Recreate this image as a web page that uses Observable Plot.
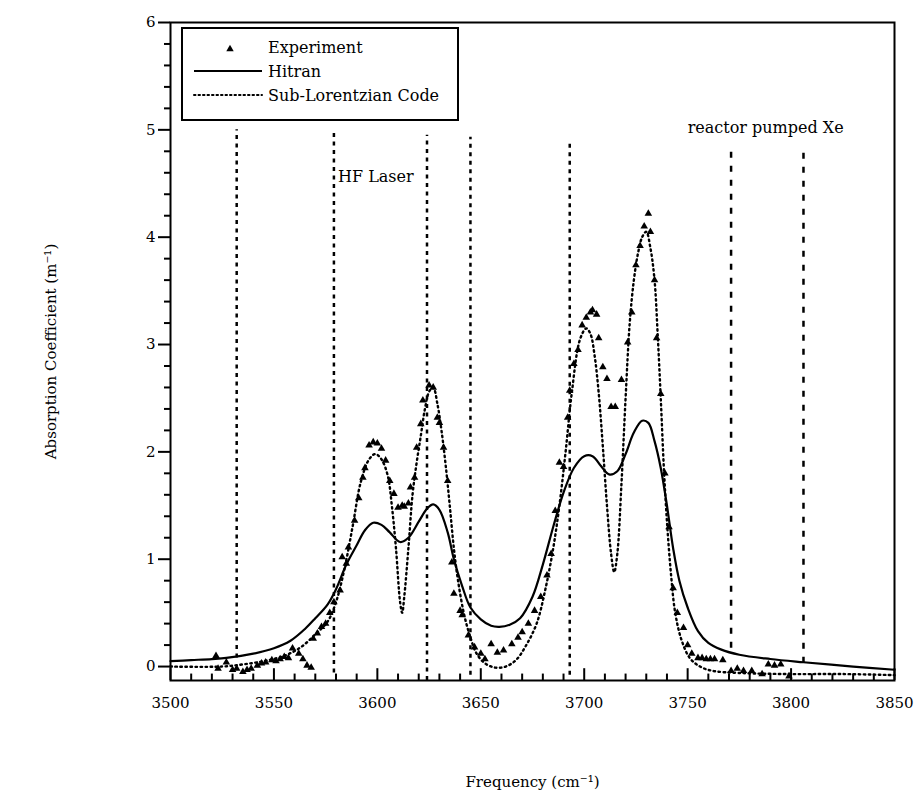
<!DOCTYPE html>
<html><head><meta charset="utf-8">
<script src="https://cdn.jsdelivr.net/npm/d3@7"></script>
<script src="https://cdn.jsdelivr.net/npm/@observablehq/plot@0.6"></script>
<style>
body{margin:0;background:#fff;}
#wrap{position:relative;width:918px;height:796px;}
#legend{position:absolute;left:0;top:0;pointer-events:none;}
</style></head><body><div id="wrap"></div>
<script>
// ---- data ----
const hitranX = [3500,3510,3520,3527,3540,3550,3558,3565,3570,3576,3580,3585,3590,3594,3598,3602,3606,3611,3615,3620,3624,3627,3630,3634,3637,3641,3645,3650,3655,3659,3664,3669,3675,3680,3685,3690,3695,3700,3704,3708,3712,3716,3720,3724,3728,3731,3734,3737,3740,3743,3746,3750,3755,3760,3766,3775,3790,3806,3830,3850];
const hitranY = [0.05,0.06,0.07,0.08,0.12,0.17,0.24,0.35,0.45,0.58,0.72,0.95,1.13,1.27,1.34,1.32,1.25,1.16,1.2,1.35,1.47,1.51,1.46,1.25,1.0,0.75,0.55,0.44,0.38,0.37,0.39,0.45,0.65,0.95,1.3,1.62,1.85,1.96,1.96,1.87,1.79,1.82,1.98,2.18,2.29,2.27,2.1,1.85,1.5,1.1,0.8,0.55,0.33,0.22,0.16,0.11,0.07,0.04,0.0,-0.03];

const subX = [3500,3525,3535,3545,3555,3563,3570,3576,3580,3584,3588,3592,3596,3599,3602,3605,3607,3609,3611,3612,3613,3615,3617,3619,3621,3623,3625,3627,3629,3631,3633,3635,3637,3639,3642,3645,3648,3652,3657,3662,3667,3672,3677,3681,3685,3688,3691,3694,3698,3701,3703,3705,3707,3709,3711,3713,3714.5,3716,3718,3720,3722,3724,3726,3728,3730,3732,3734,3735.5,3737,3738.5,3740,3742,3744,3747,3751,3756,3762,3775,3800,3825,3850];
const subY = [0.0,0.0,0.02,0.05,0.1,0.18,0.3,0.42,0.6,0.9,1.3,1.72,1.93,1.98,1.93,1.78,1.5,1.1,0.6,0.5,0.65,1.1,1.6,1.9,2.15,2.4,2.56,2.6,2.45,2.2,1.88,1.5,1.1,0.8,0.48,0.27,0.12,0.03,-0.01,0.0,0.06,0.2,0.4,0.7,1.1,1.5,2.0,2.55,3.05,3.15,3.1,2.9,2.55,2.05,1.5,1.05,0.88,1.05,1.7,2.5,3.2,3.6,3.85,4.0,4.05,3.9,3.6,3.1,2.5,1.85,1.35,0.85,0.5,0.25,0.08,0.0,-0.04,-0.06,-0.07,-0.07,-0.08];

const expX = [3522,3523,3527,3530,3532,3535,3537,3539,3542,3544,3546,3549,3551,3553,3555,3557,3559,3562,3564,3566,3568,3569,3571,3573,3575,3577,3579,3582,3583,3585,3586,3589,3591,3593,3594,3596,3598,3600,3602,3604,3606,3608,3610,3612,3613,3615,3616,3618,3619,3621,3622,3625,3627,3629,3630,3632,3634,3636,3637,3640,3641,3644,3647,3650,3652,3655,3658,3661,3665,3668,3670,3673,3676,3679,3682,3684,3686,3688,3690,3692,3693,3695,3697,3699,3701,3703,3704,3706,3707,3709,3711,3713,3715,3718,3721,3723,3725,3727,3729,3731,3732,3734,3735,3737,3739,3741,3743,3745,3748,3750,3752,3755,3757,3759,3761,3763,3767,3771,3774,3777,3781,3786,3789,3792,3795,3799];
const expY = [0.10,-0.02,0.04,-0.03,-0.02,-0.05,-0.03,-0.02,0.01,0.03,0.04,0.06,0.05,0.07,0.09,0.08,0.17,0.12,0.07,0.01,-0.01,0.26,0.31,0.37,0.40,0.50,0.60,0.71,1.02,0.96,1.11,1.36,1.57,1.76,1.85,2.06,2.09,2.08,2.03,1.92,1.73,1.61,1.48,1.50,1.49,1.52,1.67,1.76,2.04,2.26,2.48,2.62,2.60,2.32,2.27,2.04,1.73,0.97,0.68,0.52,0.48,0.29,0.18,0.12,0.07,0.21,0.13,0.15,0.21,0.27,0.32,0.40,0.52,0.65,0.85,1.05,1.45,1.90,1.86,2.32,2.57,2.82,2.95,3.18,3.25,3.30,3.32,3.28,3.06,2.79,2.68,2.42,2.42,2.67,3.02,3.30,3.74,3.92,4.10,4.22,4.05,3.60,3.06,2.54,1.80,1.30,0.73,0.50,0.36,0.20,0.12,0.08,0.08,0.07,0.07,0.07,0.06,-0.04,-0.02,-0.04,-0.04,-0.07,0.02,0.01,0.02,-0.09];

const hfX = [3532,3579,3624,3645,3693];
const hfTop = [5.0,4.97,4.95,4.93,4.9];
const hfBottom = [0.08,-0.06,-0.13,-0.08,-0.08];
const reactorX = [3771,3806];
const reactorTop = [4.85,4.8];
const reactorBottom = [0.17,0.03];

const xTicks = [3500,3550,3600,3650,3700,3750,3800,3850];
const xMinor = d3.range(3510,3850,10).filter(v => v % 50 !== 0);
const yTicks = [0,1,2,3,4,5,6];
const yMinor = d3.range(0.2,6,0.2).filter(v => Math.abs(v - Math.round(v)) > 0.01);
const yLo = -0.13;

const notes = [{x: 3581, y: 4.56, text: "HF Laser"}, {x: 3750, y: 5.02, text: "reactor pumped Xe"}];
const legendLabels = ["Experiment", "Hitran", "Sub-Lorentzian Code"];
const xLabel = "Frequency (cm\u207B\u00B9)";
const yLabel = "Absorption Coefficient (m\u207B\u00B9)";

const F = "DejaVu Serif";
const hitran = hitranX.map((x,i) => ({x, y: hitranY[i]}));
const sub = subX.map((x,i) => ({x, y: subY[i]}));
const exp = expX.map((x,i) => ({x, y: expY[i]}));
const hf = hfX.map((x,i) => ({x, top: hfTop[i], bottom: hfBottom[i]}));
const reactor = reactorX.map((x,i) => ({x, top: reactorTop[i], bottom: reactorBottom[i]}));
const majT = xTicks.map(x => ({x, y1: yLo, y2: yLo + 0.11}));
const minT = xMinor.map(x => ({x, y1: yLo, y2: yLo + 0.06}));

const chart = Plot.plot({
  width: 918, height: 796,
  marginLeft: 170, marginRight: 24, marginTop: 22, marginBottom: 116,
  x: {domain: [3500, 3850]},
  y: {domain: [yLo, 6]},
  style: {fontFamily: F, fontSize: "15px", background: "white", color: "black"},
  marks: [
    Plot.axisY({ticks: yTicks, tickSize: 12, tickPadding: 3, tickFormat: d => String(d), fontSize: 15,
      label: yLabel, labelAnchor: "center", labelArrow: "none", labelOffset: 125, stroke: "black", strokeWidth: 2}),
    Plot.axisY({ticks: yMinor, tickSize: 6, tickFormat: () => "", label: null, stroke: "black", strokeWidth: 2}),
    Plot.axisX({ticks: xTicks, tickSize: 0, tickPadding: 17, tickFormat: d => String(d), fontSize: 15,
      label: xLabel, labelAnchor: "center", labelArrow: "none", labelOffset: 106}),
    Plot.ruleX(majT, {x: "x", y1: "y1", y2: "y2", stroke: "black", strokeWidth: 2}),
    Plot.ruleX(minT, {x: "x", y1: "y1", y2: "y2", stroke: "black", strokeWidth: 2}),
    Plot.ruleX(hf, {x: "x", y1: "bottom", y2: "top", stroke: "black", strokeWidth: 2.5, strokeDasharray: "4,4.5"}),
    Plot.ruleX(reactor, {x: "x", y1: "bottom", y2: "top", stroke: "black", strokeWidth: 2.5, strokeDasharray: "6,8"}),
    Plot.line(hitran, {x: "x", y: "y", curve: "catmull-rom", stroke: "black", strokeWidth: 2.2}),
    Plot.line(sub, {x: "x", y: "y", curve: "catmull-rom", stroke: "black", strokeWidth: 2.4, strokeDasharray: "1.5,3.5", strokeLinecap: "round"}),
    Plot.dot(exp, {x: "x", y: "y", symbol: "triangle", r: 2.8, fill: "black", stroke: "none"}),
    Plot.text(notes, {x: "x", y: "y", text: "text", textAnchor: "start", fontSize: 16, fontFamily: F}),
    Plot.frame({stroke: "black", strokeWidth: 2})
  ]
});
const wrap = document.getElementById("wrap");
wrap.appendChild(chart);

// legend overlay inside the frame
const lg = d3.select(wrap).append("svg").attr("id","legend").attr("width",918).attr("height",796);
const g = lg.append("g").attr("transform","translate(182,28)");
g.append("rect").attr("width",276).attr("height",92).attr("fill","white").attr("stroke","black").attr("stroke-width",2);
const rowY = [25, 49, 73];
legendLabels.forEach((lab, i) => {
  const y = rowY[i];
  if (i === 0) g.append("path").attr("d", d3.symbol(d3.symbolTriangle, 24)()).attr("transform",`translate(48,${y-4})`).attr("fill","black");
  else g.append("line").attr("x1",12).attr("x2",80).attr("y1",y-6).attr("y2",y-6).attr("stroke","black")
        .attr("stroke-width", 2).attr("stroke-dasharray", i === 2 ? "1.5,3" : null).attr("stroke-linecap", i===2 ? "round" : null);
  g.append("text").attr("x",86).attr("y",y).attr("font-family",F).attr("font-size",16).text(lab);
});
</script></body></html>
